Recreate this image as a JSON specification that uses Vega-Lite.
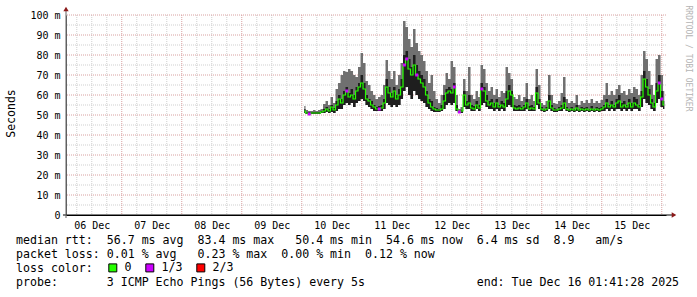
{
  "$schema": "https://vega.github.io/schema/vega-lite/v6.json",
  "width": 600,
  "height": 200,
  "autosize": "none",
  "padding": {"left": 66, "top": 15, "right": 31, "bottom": 82},
  "background": "#ffffff",
  "config": {
    "view": {"stroke": null},
    "font": "DejaVu Sans Mono",
    "axis": {"labelOverlap": false, "labelBound": false, "labelFlush": false},
    "axisY": {"labelOverlap": false},
    "axisQuantitative": {"labelOverlap": false}
  },
  "title": {
    "text": [
      "median rtt:\u00a0\u00a056.7 ms avg\u00a0\u00a083.4 ms max\u00a0\u00a0\u00a050.4 ms min\u00a0\u00a054.6 ms now\u00a0\u00a06.4 ms sd\u00a0\u00a08.9\u00a0\u00a0\u00a0am/s",
      "packet loss: 0.01 % avg\u00a0\u00a0\u00a00.23 % max\u00a0\u00a00.00 % min\u00a0\u00a00.12 % now",
      "loss color:",
      "probe:\u00a0\u00a0\u00a0\u00a0\u00a0\u00a0\u00a03 ICMP Echo Pings (56 Bytes) every 5s\u00a0\u00a0\u00a0\u00a0\u00a0\u00a0\u00a0\u00a0\u00a0\u00a0\u00a0\u00a0\u00a0\u00a0\u00a0\u00a0end: Tue Dec 16 01:41:28 2025"
    ],
    "orient": "bottom",
    "anchor": "start",
    "frame": "group",
    "dx": -50,
    "dy": -46,
    "offset": 7,
    "font": "DejaVu Sans Mono",
    "fontSize": 11.6,
    "fontWeight": "normal",
    "color": "#000000",
    "lineHeight": 14,
    "baseline": "top",
    "align": "left"
  },
  "datasets": {
    "hminor": [{"v":5},{"v":15},{"v":25},{"v":35},{"v":45},{"v":55},{"v":65},{"v":75},{"v":85},{"v":95}],
    "hmajor": [{"v":10},{"v":20},{"v":30},{"v":40},{"v":50},{"v":60},{"v":70},{"v":80},{"v":90},{"v":100}],
    "vminor": [
      {"t":"2025-12-06T06:00:00"},{"t":"2025-12-06T12:00:00"},{"t":"2025-12-06T18:00:00"},
      {"t":"2025-12-07T06:00:00"},{"t":"2025-12-07T12:00:00"},{"t":"2025-12-07T18:00:00"},
      {"t":"2025-12-08T06:00:00"},{"t":"2025-12-08T12:00:00"},{"t":"2025-12-08T18:00:00"},
      {"t":"2025-12-09T06:00:00"},{"t":"2025-12-09T12:00:00"},{"t":"2025-12-09T18:00:00"},
      {"t":"2025-12-10T06:00:00"},{"t":"2025-12-10T12:00:00"},{"t":"2025-12-10T18:00:00"},
      {"t":"2025-12-11T06:00:00"},{"t":"2025-12-11T12:00:00"},{"t":"2025-12-11T18:00:00"},
      {"t":"2025-12-12T06:00:00"},{"t":"2025-12-12T12:00:00"},{"t":"2025-12-12T18:00:00"},
      {"t":"2025-12-13T06:00:00"},{"t":"2025-12-13T12:00:00"},{"t":"2025-12-13T18:00:00"},
      {"t":"2025-12-14T06:00:00"},{"t":"2025-12-14T12:00:00"},{"t":"2025-12-14T18:00:00"},
      {"t":"2025-12-15T06:00:00"},{"t":"2025-12-15T12:00:00"},{"t":"2025-12-15T18:00:00"}
    ],
    "vmajor": [
      {"t":"2025-12-07T00:00:00"},{"t":"2025-12-08T00:00:00"},{"t":"2025-12-09T00:00:00"},
      {"t":"2025-12-10T00:00:00"},{"t":"2025-12-11T00:00:00"},{"t":"2025-12-12T00:00:00"},
      {"t":"2025-12-13T00:00:00"},{"t":"2025-12-14T00:00:00"},{"t":"2025-12-15T00:00:00"},
      {"t":"2025-12-16T00:00:00"}
    ],
    "xline": [{"t":"2025-12-06T00:29:00","t2":"2025-12-16T04:05:00","v":0}],
    "yline": [{"t":"2025-12-06T01:41:28","v":-1.5,"v2":102.5}],
    "arrowR": [{"t":"2025-12-16T04:53:00","v":0}],
    "arrowU": [{"t":"2025-12-06T01:41:28","v":103}],
    "smoke": [
      {"t":"2025-12-10T01:00:00","lo":51,"dk":53,"med":52,"hi":54.5,"loss":"0"},
      {"t":"2025-12-10T02:00:00","lo":50.5,"dk":51.5,"med":51,"hi":52.5,"loss":"0"},
      {"t":"2025-12-10T03:00:00","lo":50.5,"dk":51.5,"med":50.5,"hi":52,"loss":"1/3"},
      {"t":"2025-12-10T04:00:00","lo":50.5,"dk":51.5,"med":51,"hi":52,"loss":"0"},
      {"t":"2025-12-10T05:00:00","lo":50.5,"dk":51.5,"med":51,"hi":52.5,"loss":"0"},
      {"t":"2025-12-10T06:00:00","lo":50.5,"dk":51.5,"med":51,"hi":52,"loss":"0"},
      {"t":"2025-12-10T07:00:00","lo":50.5,"dk":51.5,"med":51,"hi":52.5,"loss":"0"},
      {"t":"2025-12-10T08:00:00","lo":51,"dk":52,"med":51.5,"hi":53,"loss":"0"},
      {"t":"2025-12-10T09:00:00","lo":51,"dk":53,"med":52,"hi":55.5,"loss":"0"},
      {"t":"2025-12-10T10:00:00","lo":51.5,"dk":54,"med":53,"hi":57,"loss":"0"},
      {"t":"2025-12-10T11:00:00","lo":51,"dk":53,"med":52,"hi":55,"loss":"0"},
      {"t":"2025-12-10T12:00:00","lo":51.5,"dk":55,"med":54,"hi":59,"loss":"0"},
      {"t":"2025-12-10T13:00:00","lo":51,"dk":53.5,"med":52.5,"hi":56,"loss":"0"},
      {"t":"2025-12-10T14:00:00","lo":52,"dk":57,"med":55,"hi":63,"loss":"0"},
      {"t":"2025-12-10T15:00:00","lo":53,"dk":60,"med":58,"hi":66,"loss":"0"},
      {"t":"2025-12-10T16:00:00","lo":53,"dk":58,"med":56,"hi":70,"loss":"0"},
      {"t":"2025-12-10T17:00:00","lo":55,"dk":62,"med":60,"hi":72,"loss":"0"},
      {"t":"2025-12-10T18:00:00","lo":56,"dk":64,"med":62,"hi":71.5,"loss":"1/3"},
      {"t":"2025-12-10T19:00:00","lo":55,"dk":61,"med":59,"hi":73,"loss":"0"},
      {"t":"2025-12-10T20:00:00","lo":56,"dk":63,"med":60,"hi":72,"loss":"0"},
      {"t":"2025-12-10T21:00:00","lo":54,"dk":60,"med":58,"hi":70,"loss":"0"},
      {"t":"2025-12-10T22:00:00","lo":56,"dk":64,"med":62,"hi":69,"loss":"0"},
      {"t":"2025-12-10T23:00:00","lo":57,"dk":66,"med":64,"hi":74,"loss":"0"},
      {"t":"2025-12-11T00:00:00","lo":58,"dk":70,"med":66,"hi":81,"loss":"0"},
      {"t":"2025-12-11T01:00:00","lo":57,"dk":66,"med":63,"hi":76,"loss":"0"},
      {"t":"2025-12-11T02:00:00","lo":55,"dk":60,"med":58,"hi":67,"loss":"0"},
      {"t":"2025-12-11T03:00:00","lo":54,"dk":58,"med":57,"hi":65,"loss":"0"},
      {"t":"2025-12-11T04:00:00","lo":53,"dk":57,"med":55,"hi":62,"loss":"0"},
      {"t":"2025-12-11T05:00:00","lo":52,"dk":55,"med":54,"hi":60,"loss":"0"},
      {"t":"2025-12-11T06:00:00","lo":52,"dk":54,"med":53,"hi":58,"loss":"0"},
      {"t":"2025-12-11T07:00:00","lo":52,"dk":54.5,"med":53,"hi":59,"loss":"1/3"},
      {"t":"2025-12-11T08:00:00","lo":52,"dk":55,"med":53.5,"hi":60,"loss":"0"},
      {"t":"2025-12-11T09:00:00","lo":53,"dk":58,"med":56,"hi":65,"loss":"0"},
      {"t":"2025-12-11T10:00:00","lo":56,"dk":68,"med":64,"hi":77.5,"loss":"0"},
      {"t":"2025-12-11T11:00:00","lo":55,"dk":64,"med":61,"hi":72,"loss":"0"},
      {"t":"2025-12-11T12:00:00","lo":54,"dk":61,"med":59,"hi":68,"loss":"0"},
      {"t":"2025-12-11T13:00:00","lo":55,"dk":64,"med":62,"hi":72,"loss":"0"},
      {"t":"2025-12-11T14:00:00","lo":54,"dk":60,"med":58,"hi":65,"loss":"0"},
      {"t":"2025-12-11T15:00:00","lo":55,"dk":63,"med":60,"hi":70,"loss":"0"},
      {"t":"2025-12-11T16:00:00","lo":58,"dk":68,"med":64,"hi":76,"loss":"0"},
      {"t":"2025-12-11T17:00:00","lo":62,"dk":80,"med":75,"hi":97,"loss":"1/3"},
      {"t":"2025-12-11T18:00:00","lo":64,"dk":82,"med":78,"hi":94,"loss":"1/3"},
      {"t":"2025-12-11T19:00:00","lo":60,"dk":78,"med":73,"hi":88,"loss":"0"},
      {"t":"2025-12-11T20:00:00","lo":58,"dk":74,"med":70,"hi":84,"loss":"0"},
      {"t":"2025-12-11T21:00:00","lo":62,"dk":80,"med":75,"hi":93,"loss":"0"},
      {"t":"2025-12-11T22:00:00","lo":60,"dk":75,"med":70,"hi":86,"loss":"1/3"},
      {"t":"2025-12-11T23:00:00","lo":58,"dk":72,"med":68,"hi":82,"loss":"0"},
      {"t":"2025-12-12T00:00:00","lo":57,"dk":70,"med":66,"hi":80,"loss":"0"},
      {"t":"2025-12-12T01:00:00","lo":56,"dk":68,"med":64,"hi":77,"loss":"0"},
      {"t":"2025-12-12T02:00:00","lo":54,"dk":62,"med":60,"hi":72,"loss":"0"},
      {"t":"2025-12-12T03:00:00","lo":53,"dk":58,"med":56,"hi":66,"loss":"0"},
      {"t":"2025-12-12T04:00:00","lo":52,"dk":57,"med":54,"hi":70,"loss":"0"},
      {"t":"2025-12-12T05:00:00","lo":51.5,"dk":54,"med":53,"hi":62,"loss":"0"},
      {"t":"2025-12-12T06:00:00","lo":51.5,"dk":53.5,"med":52.5,"hi":58,"loss":"0"},
      {"t":"2025-12-12T07:00:00","lo":51.5,"dk":53,"med":52.5,"hi":56,"loss":"0"},
      {"t":"2025-12-12T08:00:00","lo":52,"dk":55,"med":53,"hi":60,"loss":"0"},
      {"t":"2025-12-12T09:00:00","lo":53,"dk":60,"med":57,"hi":65,"loss":"0"},
      {"t":"2025-12-12T10:00:00","lo":55,"dk":63,"med":61,"hi":71,"loss":"0"},
      {"t":"2025-12-12T11:00:00","lo":56,"dk":64,"med":62,"hi":68,"loss":"0"},
      {"t":"2025-12-12T12:00:00","lo":55,"dk":63,"med":61,"hi":77,"loss":"0"},
      {"t":"2025-12-12T13:00:00","lo":56,"dk":66,"med":64,"hi":74,"loss":"1/3"},
      {"t":"2025-12-12T14:00:00","lo":52,"dk":55,"med":53,"hi":60,"loss":"0"},
      {"t":"2025-12-12T15:00:00","lo":51,"dk":52,"med":51.5,"hi":53,"loss":"1/3"},
      {"t":"2025-12-12T16:00:00","lo":51,"dk":52.5,"med":52,"hi":54,"loss":"0"},
      {"t":"2025-12-12T17:00:00","lo":54,"dk":62,"med":60,"hi":68,"loss":"0"},
      {"t":"2025-12-12T18:00:00","lo":53,"dk":57,"med":55,"hi":62,"loss":"0"},
      {"t":"2025-12-12T19:00:00","lo":53,"dk":60,"med":56,"hi":74,"loss":"0"},
      {"t":"2025-12-12T20:00:00","lo":52,"dk":55,"med":53.5,"hi":60,"loss":"0"},
      {"t":"2025-12-12T21:00:00","lo":52,"dk":54.5,"med":53,"hi":58,"loss":"0"},
      {"t":"2025-12-12T22:00:00","lo":53,"dk":57,"med":55,"hi":62,"loss":"0"},
      {"t":"2025-12-12T23:00:00","lo":52,"dk":55,"med":53.5,"hi":59,"loss":"0"},
      {"t":"2025-12-13T00:00:00","lo":55,"dk":66,"med":63,"hi":75,"loss":"1/3"},
      {"t":"2025-12-13T01:00:00","lo":56,"dk":64,"med":62,"hi":73,"loss":"0"},
      {"t":"2025-12-13T02:00:00","lo":54,"dk":60,"med":57,"hi":66,"loss":"0"},
      {"t":"2025-12-13T03:00:00","lo":53,"dk":57,"med":55,"hi":62,"loss":"0"},
      {"t":"2025-12-13T04:00:00","lo":53,"dk":58,"med":56,"hi":64,"loss":"0"},
      {"t":"2025-12-13T05:00:00","lo":52,"dk":56,"med":54,"hi":60,"loss":"0"},
      {"t":"2025-12-13T06:00:00","lo":53,"dk":58,"med":56,"hi":63,"loss":"0"},
      {"t":"2025-12-13T07:00:00","lo":52,"dk":55,"med":54,"hi":59,"loss":"0"},
      {"t":"2025-12-13T08:00:00","lo":53,"dk":57,"med":55,"hi":62,"loss":"0"},
      {"t":"2025-12-13T09:00:00","lo":52,"dk":56,"med":54,"hi":61,"loss":"0"},
      {"t":"2025-12-13T10:00:00","lo":54,"dk":62,"med":58,"hi":74,"loss":"0"},
      {"t":"2025-12-13T11:00:00","lo":55,"dk":65,"med":62,"hi":71,"loss":"0"},
      {"t":"2025-12-13T12:00:00","lo":54,"dk":62,"med":60,"hi":68,"loss":"0"},
      {"t":"2025-12-13T13:00:00","lo":52,"dk":55,"med":53.5,"hi":59,"loss":"0"},
      {"t":"2025-12-13T14:00:00","lo":52,"dk":54.5,"med":53,"hi":58,"loss":"0"},
      {"t":"2025-12-13T15:00:00","lo":52,"dk":55,"med":53.5,"hi":60,"loss":"0"},
      {"t":"2025-12-13T16:00:00","lo":52,"dk":54,"med":53,"hi":57,"loss":"0"},
      {"t":"2025-12-13T17:00:00","lo":52,"dk":55,"med":54,"hi":59,"loss":"0"},
      {"t":"2025-12-13T18:00:00","lo":53,"dk":58,"med":56,"hi":66,"loss":"0"},
      {"t":"2025-12-13T19:00:00","lo":52,"dk":54.5,"med":53,"hi":58,"loss":"0"},
      {"t":"2025-12-13T20:00:00","lo":52,"dk":55,"med":53.5,"hi":60,"loss":"0"},
      {"t":"2025-12-13T21:00:00","lo":52,"dk":54,"med":53,"hi":57,"loss":"0"},
      {"t":"2025-12-13T22:00:00","lo":55,"dk":64,"med":61,"hi":73,"loss":"0"},
      {"t":"2025-12-13T23:00:00","lo":53,"dk":58,"med":56,"hi":65,"loss":"0"},
      {"t":"2025-12-14T00:00:00","lo":52,"dk":54,"med":53,"hi":56,"loss":"0"},
      {"t":"2025-12-14T01:00:00","lo":51.5,"dk":53,"med":52.5,"hi":55,"loss":"0"},
      {"t":"2025-12-14T02:00:00","lo":52,"dk":54,"med":53,"hi":57,"loss":"0"},
      {"t":"2025-12-14T03:00:00","lo":53,"dk":60,"med":57,"hi":70,"loss":"0"},
      {"t":"2025-12-14T04:00:00","lo":52,"dk":55,"med":53.5,"hi":60,"loss":"0"},
      {"t":"2025-12-14T05:00:00","lo":51.5,"dk":53.5,"med":52.5,"hi":56,"loss":"0"},
      {"t":"2025-12-14T06:00:00","lo":51.5,"dk":53,"med":52.5,"hi":55.5,"loss":"0"},
      {"t":"2025-12-14T07:00:00","lo":52,"dk":54,"med":53,"hi":57,"loss":"0"},
      {"t":"2025-12-14T08:00:00","lo":52,"dk":55,"med":53.5,"hi":61,"loss":"0"},
      {"t":"2025-12-14T09:00:00","lo":53,"dk":59,"med":56,"hi":69,"loss":"0"},
      {"t":"2025-12-14T10:00:00","lo":52,"dk":54,"med":53,"hi":58,"loss":"0"},
      {"t":"2025-12-14T11:00:00","lo":51.5,"dk":53,"med":52.5,"hi":56,"loss":"0"},
      {"t":"2025-12-14T12:00:00","lo":52,"dk":54,"med":53,"hi":57,"loss":"0"},
      {"t":"2025-12-14T13:00:00","lo":51.5,"dk":53,"med":52.5,"hi":56,"loss":"0"},
      {"t":"2025-12-14T14:00:00","lo":52,"dk":55,"med":53.5,"hi":60,"loss":"0"},
      {"t":"2025-12-14T15:00:00","lo":51.5,"dk":53,"med":52.5,"hi":55,"loss":"0"},
      {"t":"2025-12-14T16:00:00","lo":52,"dk":54,"med":53,"hi":57,"loss":"0"},
      {"t":"2025-12-14T17:00:00","lo":51.5,"dk":53.5,"med":52.5,"hi":56,"loss":"0"},
      {"t":"2025-12-14T18:00:00","lo":52,"dk":54,"med":53,"hi":57.5,"loss":"0"},
      {"t":"2025-12-14T19:00:00","lo":51.5,"dk":53,"med":52.5,"hi":56,"loss":"0"},
      {"t":"2025-12-14T20:00:00","lo":52,"dk":54.5,"med":53,"hi":58,"loss":"0"},
      {"t":"2025-12-14T21:00:00","lo":51.5,"dk":53,"med":52.5,"hi":56,"loss":"0"},
      {"t":"2025-12-14T22:00:00","lo":52,"dk":54,"med":53,"hi":57,"loss":"0"},
      {"t":"2025-12-14T23:00:00","lo":51.5,"dk":53.5,"med":52.5,"hi":56,"loss":"0"},
      {"t":"2025-12-15T00:00:00","lo":52,"dk":54,"med":53,"hi":57.5,"loss":"0"},
      {"t":"2025-12-15T01:00:00","lo":52,"dk":55,"med":54,"hi":60,"loss":"0"},
      {"t":"2025-12-15T02:00:00","lo":53,"dk":58,"med":56,"hi":66,"loss":"0"},
      {"t":"2025-12-15T03:00:00","lo":52,"dk":55,"med":54,"hi":60,"loss":"0"},
      {"t":"2025-12-15T04:00:00","lo":53,"dk":57,"med":55,"hi":62,"loss":"0"},
      {"t":"2025-12-15T05:00:00","lo":52,"dk":55,"med":54,"hi":60,"loss":"0"},
      {"t":"2025-12-15T06:00:00","lo":53,"dk":58,"med":56,"hi":63,"loss":"0"},
      {"t":"2025-12-15T07:00:00","lo":53,"dk":60,"med":57,"hi":65,"loss":"0"},
      {"t":"2025-12-15T08:00:00","lo":52,"dk":56,"med":54,"hi":61,"loss":"0"},
      {"t":"2025-12-15T09:00:00","lo":53,"dk":57,"med":55,"hi":62,"loss":"0"},
      {"t":"2025-12-15T10:00:00","lo":52,"dk":55,"med":54,"hi":60,"loss":"0"},
      {"t":"2025-12-15T11:00:00","lo":53,"dk":58,"med":56,"hi":63,"loss":"0"},
      {"t":"2025-12-15T12:00:00","lo":52,"dk":56,"med":54,"hi":61,"loss":"0"},
      {"t":"2025-12-15T13:00:00","lo":53,"dk":59,"med":56,"hi":64,"loss":"0"},
      {"t":"2025-12-15T14:00:00","lo":53,"dk":58,"med":55,"hi":63,"loss":"0"},
      {"t":"2025-12-15T15:00:00","lo":52,"dk":55,"med":54,"hi":60,"loss":"0"},
      {"t":"2025-12-15T16:00:00","lo":54,"dk":62,"med":59,"hi":70,"loss":"0"},
      {"t":"2025-12-15T17:00:00","lo":58,"dk":72,"med":68,"hi":82,"loss":"0"},
      {"t":"2025-12-15T18:00:00","lo":56,"dk":68,"med":64,"hi":78,"loss":"0"},
      {"t":"2025-12-15T19:00:00","lo":55,"dk":63,"med":60,"hi":72,"loss":"0"},
      {"t":"2025-12-15T20:00:00","lo":53,"dk":58,"med":56,"hi":65,"loss":"0"},
      {"t":"2025-12-15T21:00:00","lo":52,"dk":56,"med":54,"hi":60,"loss":"0"},
      {"t":"2025-12-15T22:00:00","lo":56,"dk":66,"med":62,"hi":78,"loss":"0"},
      {"t":"2025-12-15T23:00:00","lo":58,"dk":70,"med":66,"hi":80,"loss":"1/3"},
      {"t":"2025-12-16T00:00:00","lo":54,"dk":62,"med":58,"hi":70,"loss":"1/3"},
      {"t":"2025-12-16T01:00:00","lo":53,"dk":57,"med":55,"hi":62,"loss":"0"}
    ]
  },
  "layer": [
    {
      "data": {"name": "hminor"},
      "mark": {"type": "rule", "color": "#cfcfcf", "strokeDash": [1, 1], "strokeWidth": 1},
      "encoding": {"y": {"field": "v", "type": "quantitative"}}
    },
    {
      "data": {"name": "vminor"},
      "mark": {"type": "rule", "color": "#cfcfcf", "strokeDash": [1, 1], "strokeWidth": 1},
      "encoding": {"x": {"field": "t", "type": "temporal"}}
    },
    {
      "data": {"name": "hmajor"},
      "mark": {"type": "rule", "color": "#d8a0a0", "strokeDash": [1, 1], "strokeWidth": 1},
      "encoding": {"y": {"field": "v", "type": "quantitative"}}
    },
    {
      "data": {"name": "vmajor"},
      "mark": {"type": "rule", "color": "#d8a0a0", "strokeDash": [1, 1], "strokeWidth": 1},
      "encoding": {"x": {"field": "t", "type": "temporal"}}
    },
    {
      "data": {"name": "smoke"},
      "mark": {"type": "area", "interpolate": "step", "color": "#707070"},
      "encoding": {
        "x": {
          "field": "t", "type": "temporal",
          "scale": {"domain": [{"year": 2025, "month": 12, "date": 6, "hours": 1, "minutes": 41, "seconds": 28}, {"year": 2025, "month": 12, "date": 16, "hours": 1, "minutes": 41, "seconds": 28}], "nice": false},
          "axis": {
            "title": "RRDTOOL / TOBI OETIKER",
            "titleAngle": 90, "titleX": 619, "titleY": -210, "titleAlign": "left", "titleBaseline": "alphabetic",
            "titleFont": "DejaVu Sans Mono", "titleFontSize": 8, "titleFontWeight": "normal", "titleColor": "#b4b4b4",
            "values": [
              {"year": 2025, "month": 12, "date": 6, "hours": 12},
              {"year": 2025, "month": 12, "date": 7, "hours": 12},
              {"year": 2025, "month": 12, "date": 8, "hours": 12},
              {"year": 2025, "month": 12, "date": 9, "hours": 12},
              {"year": 2025, "month": 12, "date": 10, "hours": 12},
              {"year": 2025, "month": 12, "date": 11, "hours": 12},
              {"year": 2025, "month": 12, "date": 12, "hours": 12},
              {"year": 2025, "month": 12, "date": 13, "hours": 12},
              {"year": 2025, "month": 12, "date": 14, "hours": 12},
              {"year": 2025, "month": 12, "date": 15, "hours": 12}
            ],
            "format": "%d %b",
            "labelFont": "DejaVu Sans Mono", "labelFontSize": 10, "labelColor": "#000000", "labelPadding": 5,
            "labelOverlap": false, "labelFlush": false, "labelAngle": 0,
            "ticks": false, "domain": true, "domainColor": "#000000", "grid": false
          }
        },
        "y": {
          "field": "lo", "type": "quantitative",
          "scale": {"domain": [0, 100], "nice": false},
          "axis": {
            "title": "Seconds", "titleX": -61, "titleY": 98, "titleAngle": -90, "titleBaseline": "top", "titleAlign": "center",
            "titleFont": "DejaVu Sans Mono", "titleFontSize": 11.5, "titleFontWeight": "normal", "titleColor": "#000000",
            "values": [0, 10, 20, 30, 40, 50, 60, 70, 80, 90, 100],
            "tickCount": 11,
            "labelExpr": "datum.value === 0 ? '0\u00a0\u00a0' : datum.value + '\u00a0m'",
            "labelFont": "DejaVu Sans Mono", "labelFontSize": 10, "labelColor": "#000000", "labelPadding": 6,
            "labelFlush": false, "labelOverlap": false, "labelBound": false, "labelSeparation": 0,
            "ticks": false, "domain": true, "domainColor": "#606060", "grid": false
          }
        },
        "y2": {"field": "hi"}
      }
    },
    {
      "data": {"name": "smoke"},
      "mark": {"type": "area", "interpolate": "step", "color": "#1e1e1e"},
      "encoding": {
        "x": {"field": "t", "type": "temporal"},
        "y": {"field": "lo", "type": "quantitative"},
        "y2": {"field": "dk"}
      }
    },
    {
      "data": {"name": "smoke"},
      "mark": {"type": "line", "interpolate": "step", "color": "#26ff00", "strokeWidth": 1.2},
      "encoding": {
        "x": {"field": "t", "type": "temporal"},
        "y": {"field": "med", "type": "quantitative"}
      }
    },
    {
      "data": {"name": "smoke"},
      "transform": [{"filter": "datum.loss !== '0'"}],
      "mark": {"type": "square", "size": 9, "opacity": 1},
      "encoding": {
        "x": {"field": "t", "type": "temporal"},
        "y": {"field": "med", "type": "quantitative"},
        "color": {
          "field": "loss", "type": "nominal",
          "scale": {"domain": ["0", "1/3", "2/3"], "range": ["#26ff00", "#cc00ff", "#ff0000"]},
          "legend": {
            "title": null, "orient": "none", "legendX": 41, "legendY": 247,
            "direction": "horizontal",
            "labelFont": "DejaVu Sans Mono", "labelFontSize": 11.6, "labelColor": "#000000", "labelOffset": 6,
            "columnPadding": 11, "symbolType": "square", "symbolSize": 64,
            "symbolStrokeColor": "#000000", "symbolStrokeWidth": 1, "symbolOpacity": 1, "padding": 0,
            "values": ["0", "1/3", "2/3"]
          }
        }
      }
    },
    {
      "data": {"name": "xline"},
      "mark": {"type": "rule", "color": "#000000", "strokeWidth": 1},
      "encoding": {
        "x": {"field": "t", "type": "temporal"},
        "x2": {"field": "t2"},
        "y": {"field": "v", "type": "quantitative"}
      }
    },
    {
      "data": {"name": "yline"},
      "mark": {"type": "rule", "color": "#606060", "strokeWidth": 1},
      "encoding": {
        "x": {"field": "t", "type": "temporal"},
        "y": {"field": "v", "type": "quantitative"},
        "y2": {"field": "v2"}
      }
    },
    {
      "data": {"name": "arrowR"},
      "mark": {"type": "point", "shape": "triangle-right", "filled": true, "size": 28, "color": "#8b1a1a", "opacity": 1},
      "encoding": {
        "x": {"field": "t", "type": "temporal"},
        "y": {"field": "v", "type": "quantitative"}
      }
    },
    {
      "data": {"name": "arrowU"},
      "mark": {"type": "point", "shape": "triangle-up", "filled": true, "size": 28, "color": "#8b1a1a", "opacity": 1},
      "encoding": {
        "x": {"field": "t", "type": "temporal"},
        "y": {"field": "v", "type": "quantitative"}
      }
    }
  ]
}
